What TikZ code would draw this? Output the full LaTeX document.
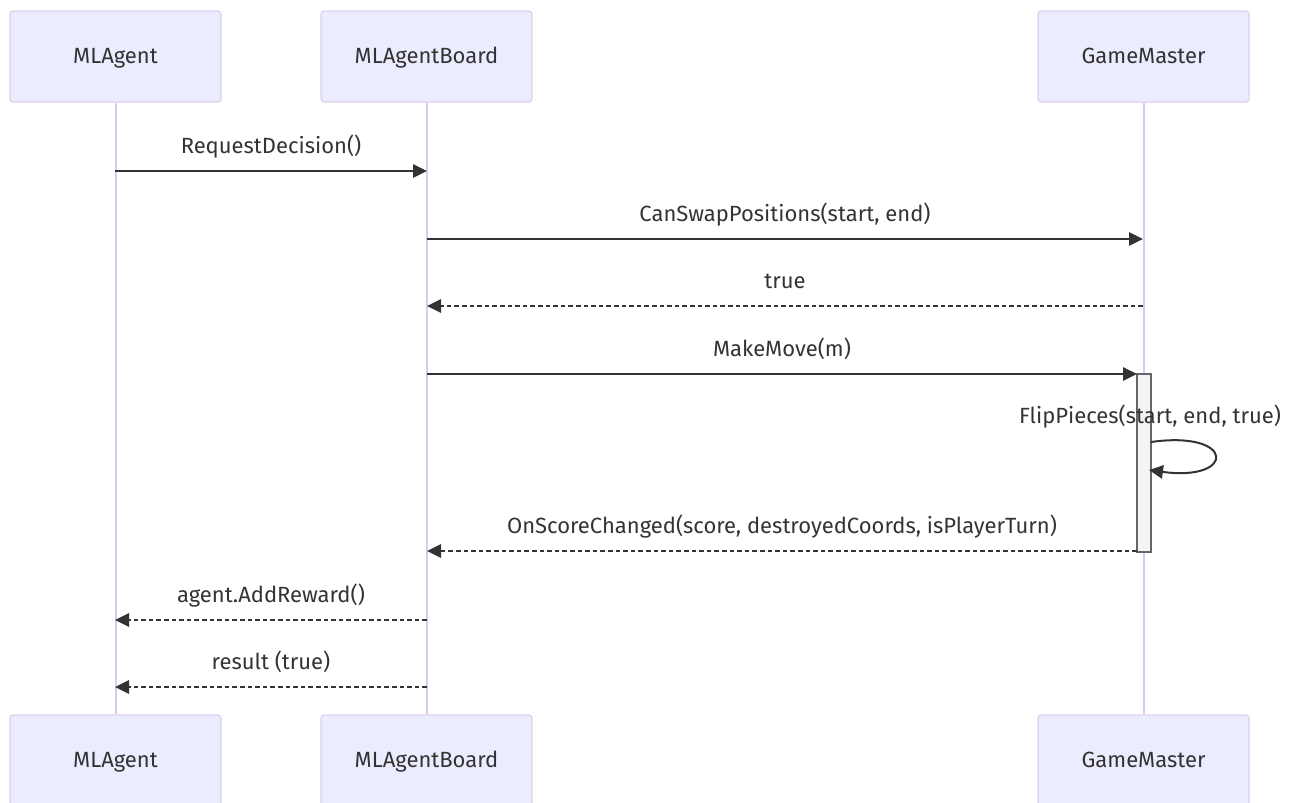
\documentclass[tikz,border=0pt]{standalone}
\usepackage{fontspec}
\setmainfont{Fira Sans}
\usetikzlibrary{arrows.meta}
\definecolor{actfill}{HTML}{ECECFF}
\definecolor{actline}{HTML}{DCD2EE}
\definecolor{lifeline}{HTML}{D9CBEF}
\definecolor{msgline}{HTML}{333333}
\definecolor{barfill}{HTML}{F4F4F4}
\definecolor{barline}{HTML}{666666}
\tikzset{
  txt/.style={font=\fontsize{16.5}{19}\selectfont, text=msgline,
    text height=12pt, text depth=4pt},
  actor/.style={txt, text depth=1pt, draw=actline, fill=actfill, line width=1pt,
    rounded corners=2.5pt, minimum width=211*0.75pt, minimum height=91*0.75pt,
    inner sep=0pt},
  life/.style={draw=lifeline, line width=1.5pt},
  msg/.style={draw=msgline, line width=1.5pt, -{Triangle[length=10.5pt,width=10pt]}},
  reply/.style={msg, dash pattern=on 3.4pt off 2.3pt},
  lbl/.style={txt, inner sep=0pt, anchor=center, yshift=17pt},
  actbar/.style={draw=barline, fill=barfill, line width=1pt, minimum width=14*0.75pt,
    minimum height=178*0.75pt, inner sep=0pt},
}
\begin{document}
\begin{tikzpicture}[x=0.75pt, y=-0.75pt]
\useasboundingbox (0,0) rectangle (1289,803);
% participants, top and bottom
\node[actor] (a1) at (115.5,56.5) {MLAgent};
\node[actor] (b1) at (426.5,56.5) {MLAgentBoard};
\node[actor] (g1) at (1143.5,56.5) {GameMaster};
\node[actor] (a2) at (115.5,760.5) {MLAgent};
\node[actor] (b2) at (426.5,760.5) {MLAgentBoard};
\node[actor] (g2) at (1143.5,760.5) {GameMaster};
% lifelines
\draw[life] (a1.south) -- (a2.north);
\draw[life] (b1.south) -- (b2.north);
\draw[life] (g1.south) -- (g2.north);
% activation bar on GameMaster
\node[actbar] (bar) at (1144,463) {};
% message anchor points on the lifelines
\coordinate (m1s) at (115,171);  \coordinate (m1e) at (427,171);
\coordinate (m2s) at (427,239);  \coordinate (m2e) at (1143,239);
\coordinate (m3s) at (1143,306); \coordinate (m3e) at (427,306);
\coordinate (m4s) at (427,374);  \coordinate (m4e) at (1137,374);
\coordinate (s1) at (1151,442);  \coordinate (s2) at (1149,470);
\coordinate (m6s) at (1137,551); \coordinate (m6e) at (427,551);
\coordinate (m7s) at (427,620);  \coordinate (m7e) at (115,620);
\coordinate (m8s) at (427,687);  \coordinate (m8e) at (115,687);
% messages
\draw[msg] (m1s) -- node[lbl] (t1) {RequestDecision()} (m1e);
\draw[msg] (m2s) -- node[lbl] (t2) {CanSwapPositions(start, end)} (m2e);
\draw[reply] (m3s) -- node[lbl] (t3) {true} (m3e);
\draw[msg] (m4s) -- node[lbl] (t4) {MakeMove(m)} (m4e);
\node[txt, inner sep=0pt] (t5) at (1150,418) {FlipPieces(start, end, true)};
\draw[msg] (s1) .. controls (1236,430) and (1236,482) .. (s2);
\draw[reply] (m6s) -- node[lbl] (t6) {OnScoreChanged(score, destroyedCoords, isPlayerTurn)} (m6e);
\draw[reply] (m7s) -- node[lbl] (t7) {agent.AddReward()} (m7e);
\draw[reply] (m8s) -- node[lbl] (t8) {result (true)} (m8e);
\end{tikzpicture}
\end{document}
